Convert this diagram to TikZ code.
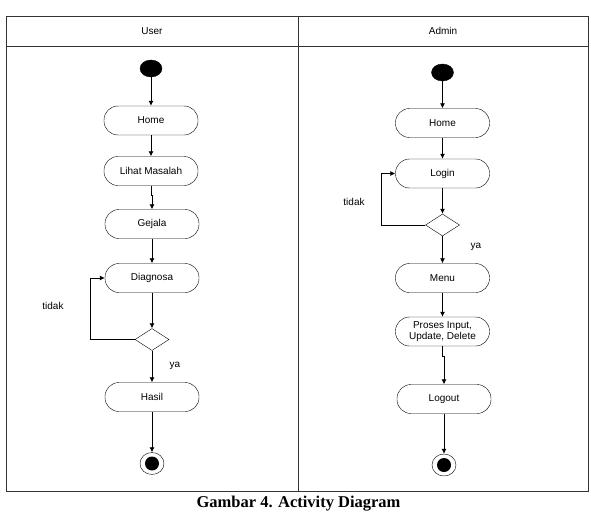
\documentclass[tikz,border=0pt]{standalone}
\usepackage{fontspec}
\setmainfont{Liberation Serif}
\newfontfamily\labelfont{Liberation Sans}
\usetikzlibrary{arrows.meta}
\usetikzlibrary{shapes.geometric}
\begin{document}
\begin{tikzpicture}[x=1pt, y=-1pt, >={Latex[length=5pt,width=5pt]},
activity/.style={draw, rounded corners=14pt, minimum width=94pt, minimum height=29pt, inner sep=1pt, align=center, font=\labelfont\fontsize{10}{12}\selectfont},
startnode/.style={ellipse, fill=black, draw=black, inner sep=0, minimum width=22pt, minimum height=17pt},
endnode/.style={ellipse, draw=black, inner sep=0, minimum width=24pt, minimum height=22pt},
endcore/.style={ellipse, fill=black, inner sep=0, minimum width=14pt, minimum height=14pt},
decision/.style={diamond, draw, inner sep=0, minimum width=34pt, minimum height=22pt},
flow/.style={->, line width=0.8pt},
lane/.style={draw=black!80, line width=0.8pt},
felirat/.style={font=\labelfont\fontsize{10}{12}\selectfont, inner sep=0}]

% SIZE OF THE PICTURE
\useasboundingbox (0,0) rectangle (591,511);
%%%%%%%%% SWIMLANES %%%%%%%%%%%%%
\draw[lane] (6,16) rectangle (588,491);
\draw[lane] (6,46) -- (588,46);
\draw[lane] (298,16) -- (298,491);
\node[felirat] (userlane) at (152,31) {User};
\node[felirat] (adminlane) at (443,31) {Admin};
%%%%%%%%%%%%%%%%%%%%%%%%%%%
% USER
\node[startnode] (startU) at (151,68.5) {};
\node[activity] (homeU) at (151,120.5) {Home};
\node[activity] (lihat) at (151,171) {Lihat Masalah};
\node[activity] (gejala) at (152,224) {Gejala};
\node[activity] (diagnosa) at (152,278) {Diagnosa};
\node[decision] (cekU) at (152,339.5) {};
\node[activity] (hasil) at (152,397) {Hasil};
\node[endnode] (endU) at (152,463.5) {};
\node[endcore] (endUc) at (152,463.5) {};
\node[felirat] (tidakU) at (53,306) {tidak};
\node[felirat] (yaU) at (175,366) {ya};
\draw[flow] (startU) -- (homeU);
\draw[flow] (homeU) -- (lihat);
\draw[flow] (lihat.south) -- ++(0,10) -| (gejala.north);
\draw[flow] (gejala) -- (diagnosa);
\draw[flow] (diagnosa) -- (cekU);
\draw[flow] (cekU.west) -- ++(-44,0) |- (diagnosa.west);
\draw[flow] (cekU) -- (hasil);
\draw[flow] (hasil) -- (endU);
%%%%%%%%%%%%%%%%%%%%%%%%%%%
% ADMIN
\node[startnode] (startA) at (442.5,72.5) {};
\node[activity] (homeA) at (442.5,123) {Home};
\node[activity] (login) at (442.5,173.5) {Login};
\node[decision] (cekA) at (442.5,225) {};
\node[activity] (menu) at (442.5,278) {Menu};
\node[activity] (proses) at (442.5,331.5) {Proses Input,\\[-1pt]Update, Delete};
\node[activity] (logout) at (444,399) {Logout};
\node[endnode] (endA) at (444,465) {};
\node[endcore] (endAc) at (444,465) {};
\node[felirat] (tidakA) at (354,201.5) {tidak};
\node[felirat] (yaA) at (476,247) {ya};
\draw[flow] (startA) -- (homeA);
\draw[flow] (homeA) -- (login);
\draw[flow] (login) -- (cekA);
\draw[flow] (cekA.west) -- ++(-44,0) |- (login.west);
\draw[flow] (cekA) -- (menu);
\draw[flow] (menu) -- (proses);
\draw[flow] (proses.south) -- ++(0,10) -| (logout.north);
\draw[flow] (logout) -- (endA);
%%%%%%%%% CAPTION %%%%%%%%%%%%%
\node[anchor=base, inner sep=0, font=\fontsize{16.5}{18}\selectfont\bfseries] (caption) at (298.5,507) {Gambar 4. Activity Diagram};
\end{tikzpicture}
\end{document}
